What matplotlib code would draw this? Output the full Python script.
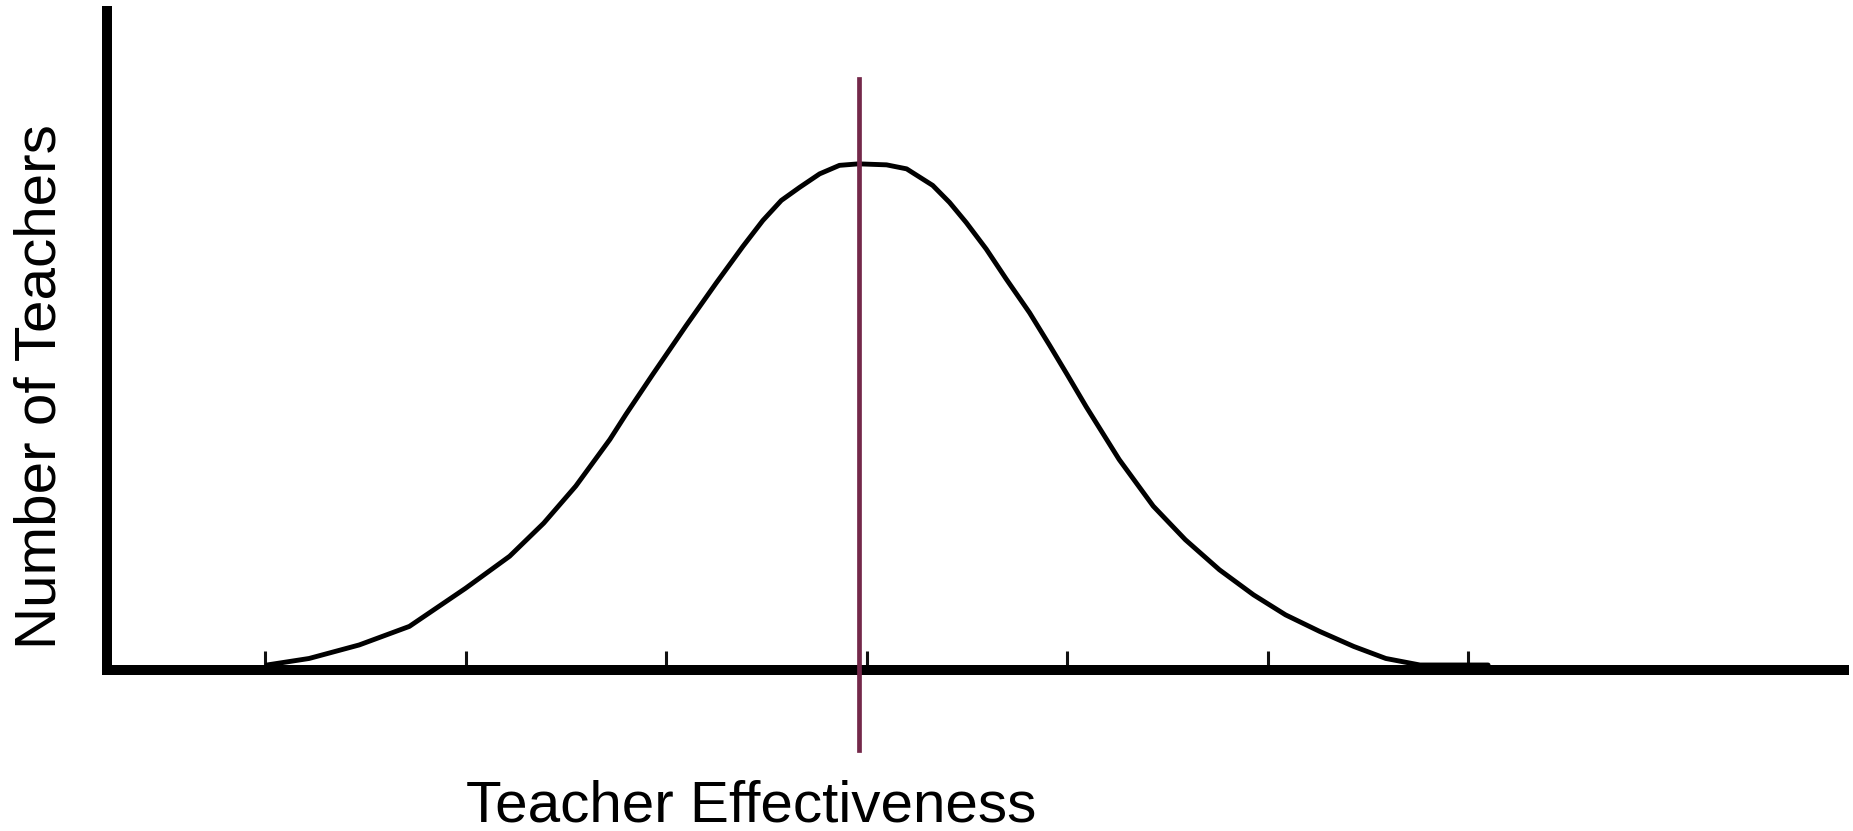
import matplotlib
matplotlib.use("Agg")
import matplotlib.pyplot as plt

# bell curve (x in tick units, y relative to peak = 100)
effect = [-2.99, -2.78, -2.53, -2.28, -2.0, -1.78, -1.61, -1.45, -1.28, -1.20,
          -1.066, -0.90, -0.75, -0.617, -0.517, -0.425, -0.334, -0.234, -0.135,
          -0.04, 0.10, 0.20, 0.33, 0.414, 0.497, 0.597, 0.697, 0.813, 0.913,
          1.0, 1.096, 1.26, 1.43, 1.59, 1.76, 1.93, 2.09, 2.26, 2.43,
          2.59, 2.76, 3.1]
teachers = [0, 1.3, 4.0, 7.7, 15.3, 21.7, 28.3, 35.7, 45.0, 50.0,
            58.0, 67.7, 76.2, 83.5, 88.7, 92.7, 95.3, 98.0, 99.7,
            100, 99.8, 99.0, 95.7, 92.3, 88.3, 83.0, 77.0, 70.3, 63.8,
            58.0, 51.5, 41.0, 31.7, 25.0, 19.0, 14.0, 10.0, 6.7, 3.7,
            1.3, 0, 0]
ticks = [-3, -2, -1, 0, 1, 2, 3]
mean_x = -0.04
mean_span = [-17, 117]

plt.rcParams['font.family'] = ['Liberation Sans', 'DejaVu Sans']

W, H = 1853, 831
fig = plt.figure(figsize=(W / 100, H / 100), dpi=100)
ax = fig.add_axes([107 / W, (H - 670) / H, (1844 - 107) / W, (670 - 11) / H])

ax.plot(effect, teachers, color='black', lw=3.5, solid_joinstyle='round',
        solid_capstyle='round', zorder=3)
ax.plot([mean_x, mean_x], mean_span, color='#74284a', lw=3.4, clip_on=False, zorder=5)

ax.set_xlim(-3.788, 4.875)
ax.set_ylim(-1, 130.5)

for s in ['top', 'right']:
    ax.spines[s].set_visible(False)
for s in ['left', 'bottom']:
    ax.spines[s].set_linewidth(7.2)
    ax.spines[s].set_color('black')

ax.set_xticks(ticks)
ax.set_xticklabels([])
ax.set_yticks([])
ax.tick_params(axis='x', direction='in', length=13.5, width=2.2, color='#111111')

fig.text(751 / W, (H - 821) / H, 'Teacher Effectiveness', fontsize=42,
         ha='center', va='baseline')
fig.text(56 / W, (H - 387) / H, 'Number of Teachers', fontsize=42,
         rotation=90, rotation_mode='anchor', ha='center', va='baseline')

fig.savefig('out.png', dpi=100, facecolor='white')
